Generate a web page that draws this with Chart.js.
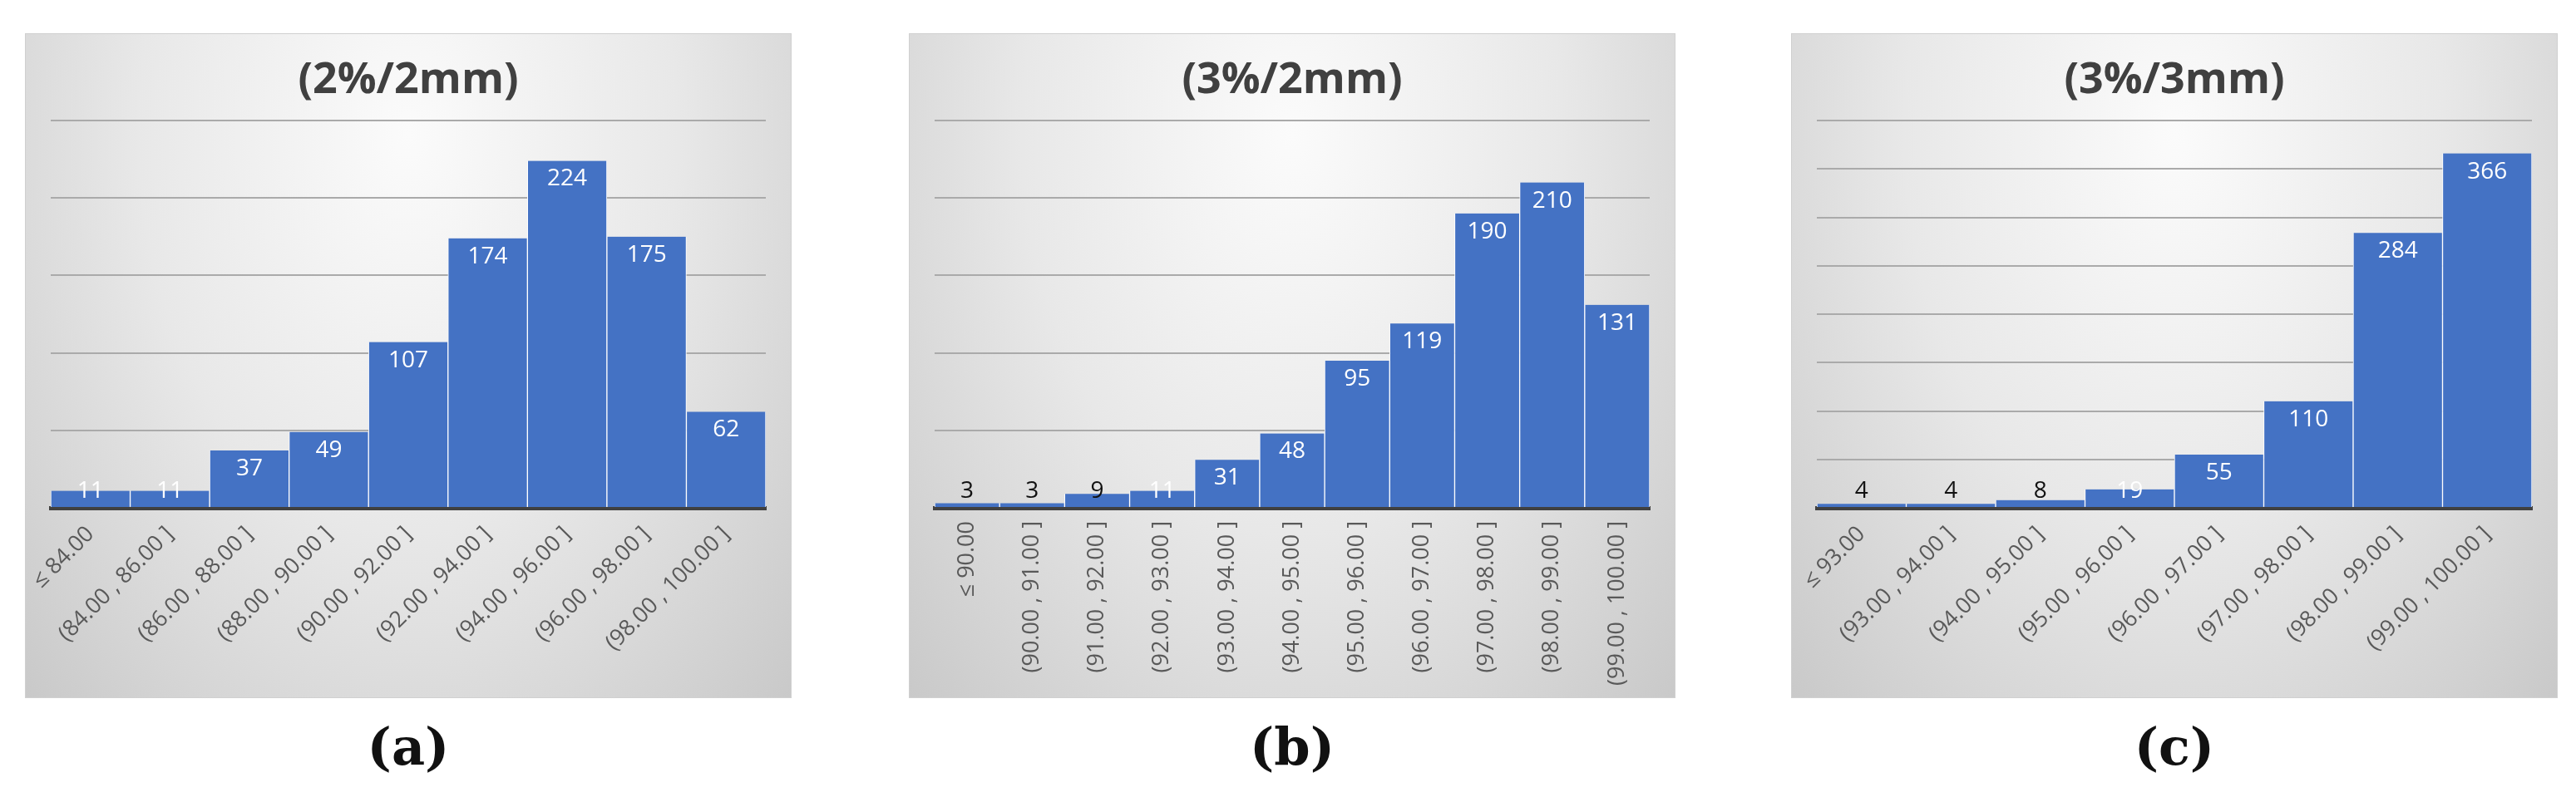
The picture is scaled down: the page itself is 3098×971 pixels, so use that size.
<!DOCTYPE html>
<html><head><meta charset="utf-8">
<script src="https://cdn.jsdelivr.net/npm/chart.js@4"></script>
<style>
body{margin:0;width:3098px;height:971px;background:#fff;position:relative;overflow:hidden}
.p{position:absolute;top:40px;width:922px;height:800px;border:1px solid #d0d0d0;box-sizing:border-box;
background:radial-gradient(ellipse at 50% 15%,#fbfbfb 0%,#e8e8e8 50%,#c9c9c9 100%)}
.cap{position:absolute;top:862px;width:922px;text-align:center;font-family:"DejaVu Serif",serif;font-weight:bold;font-size:62px;color:#111}
</style></head><body>
<div class="p" style="left:30px"><canvas id="c1"></canvas></div>
<div class="p" style="left:1093px"><canvas id="c2"></canvas></div>
<div class="p" style="left:2154px"><canvas id="c3"></canvas></div>
<div class="cap" style="left:30px">(a)</div>
<div class="cap" style="left:1093px">(b)</div>
<div class="cap" style="left:2154px">(c)</div>
<script>
const titles=["(2%/2mm)","(3%/2mm)","(3%/3mm)"];
const catsA=["≤ 84.00","(84.00 , 86.00 ]","(86.00 , 88.00 ]","(88.00 , 90.00 ]","(90.00 , 92.00 ]","(92.00 , 94.00 ]","(94.00 , 96.00 ]","(96.00 , 98.00 ]","(98.00 , 100.00 ]"];
const valsA=[11,11,37,49,107,174,224,175,62];
const catsB=["≤ 90.00","(90.00 , 91.00 ]","(91.00 , 92.00 ]","(92.00 , 93.00 ]","(93.00 , 94.00 ]","(94.00 , 95.00 ]","(95.00 , 96.00 ]","(96.00 , 97.00 ]","(97.00 , 98.00 ]","(98.00 , 99.00 ]","(99.00 , 100.00 ]"];
const valsB=[3,3,9,11,31,48,95,119,190,210,131];
const catsC=["≤ 93.00","(93.00 , 94.00 ]","(94.00 , 95.00 ]","(95.00 , 96.00 ]","(96.00 , 97.00 ]","(97.00 , 98.00 ]","(98.00 , 99.00 ]","(99.00 , 100.00 ]"];
const valsC=[4,4,8,19,55,110,284,366];
const yMax=[250,250,400];
const rot=[45,90,45];
const labelPlugin={id:'vl',afterDatasetsDraw(ch){
  const ctx=ch.ctx,meta=ch.getDatasetMeta(0),base=ch.scales.y.getPixelForValue(0);
  ctx.save();ctx.font='28px "Open Sans"';ctx.textAlign='center';ctx.textBaseline='top';
  meta.data.forEach((b,i)=>{const v=ch.data.datasets[0].data[i];
    let y=Math.min(b.y+8,base-34);
    ctx.fillStyle=(base-b.y)<20?'#111':'#fff';ctx.fillText(String(v),b.x,y);});
  ctx.restore();}};
const titlePlugin={id:'tt',afterDraw(ch){const ctx=ch.ctx;ctx.save();
  ctx.font='bold 52px "Open Sans"';ctx.fillStyle='#404040';ctx.textAlign='center';ctx.textBaseline='middle';
  ctx.fillText(ch.options.plugins.tt.text,ch.width/2,56);ctx.restore();}};
function make(id,cats,vals,k){
  new Chart(document.getElementById(id),{type:'bar',
   data:{labels:cats,datasets:[{data:vals,backgroundColor:'#4472C4',borderColor:'#ffffff',borderWidth:{left:1,right:1,top:0,bottom:0},categoryPercentage:1,barPercentage:1}]},
   options:{responsive:false,animation:false,devicePixelRatio:1,
    layout:{padding:{top:104,left:30,right:30,bottom:0}},
    plugins:{legend:{display:false},tooltip:{enabled:false},tt:{text:titles[k]}},
    scales:{
     x:{grid:{display:false},border:{color:'#404040',width:5},
        ticks:{color:'#595959',font:{size:27,family:'"Open Sans"'},minRotation:rot[k],maxRotation:rot[k],autoSkip:false,padding:8},
        afterFit(s){s.height=228;}},
     y:{min:0,max:yMax[k],ticks:{display:false,stepSize:50},border:{display:false},
        grid:{color:'#aaaaaa',lineWidth:2,drawTicks:false},afterFit(s){s.width=0;}}
    }},
   plugins:[labelPlugin,titlePlugin]});
}
['c1','c2','c3'].forEach(id=>{const c=document.getElementById(id);c.width=920;c.height=798;});
make('c1',catsA,valsA,0);make('c2',catsB,valsB,1);make('c3',catsC,valsC,2);
</script></body></html>
